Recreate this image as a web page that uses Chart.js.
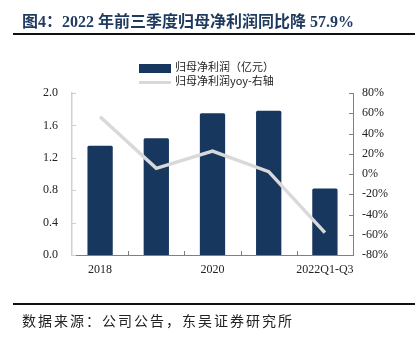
<!DOCTYPE html>
<html>
<head>
<meta charset="utf-8">
<script src="https://cdn.jsdelivr.net/npm/chart.js@4"></script>
<style>
  html, body { margin: 0; padding: 0; background: #fff; }
  #wrap { position: relative; width: 418px; height: 345px; overflow: hidden; }
  #myChart { position: absolute; left: 0; top: 0; }
  .title { position: absolute; left: 22px; top: 8px; font: bold 16px "Liberation Serif", "Noto Sans CJK SC"; color: #1f3a5f; white-space: nowrap; }
  .rule { position: absolute; left: 13px; width: 402px; height: 2px; background: #111; }
  .leg { position: absolute; left: 139px; font: 11px "Noto Sans CJK SC", "Liberation Serif"; color: #222; white-space: nowrap; }
  .leg span { display: inline-block; vertical-align: middle; width: 32px; margin-right: 4px; }
  .note { position: absolute; left: 22px; top: 310px; font: 14px "Noto Sans CJK SC"; line-height: 20px; color: #222; white-space: nowrap; letter-spacing: 2px; }
</style>
</head>
<body>
<div id="wrap">
  <canvas id="myChart" width="418" height="345"></canvas>
  <div class="title">图4：2022 年前三季度归母净利润同比降 57.9%</div>
  <div class="rule" style="top:33px"></div>
  <div class="leg" style="top:58px"><span style="height:9px;background:#17375e"></span>归母净利润（亿元）</div>
  <div class="leg" style="top:72px"><span style="height:3px;background:#d9d9d9"></span>归母净利润yoy-右轴</div>
  <div class="rule" style="top:303px"></div>
  <div class="note">数据来源：公司公告，东吴证券研究所</div>
</div>
<script>
const categories = ['2018', '2019', '2020', '2021', '2022Q1-Q3'];
const profit = [1.35, 1.44, 1.75, 1.78, 0.82];
const profitYoy = [56.6, 5.6, 22.7, 2.3, -57.9];

const tickFont = { family: 'Liberation Serif', size: 12 };

// small tick marks pointing into the plot, like the original
const innerTicks = {
  id: 'innerTicks',
  afterDraw(chart) {
    const ctx = chart.ctx;
    const { left, right, bottom } = chart.chartArea;
    const x = chart.scales.x, y = chart.scales.y, y1 = chart.scales.y1;
    ctx.save();
    ctx.lineWidth = 1;
    ctx.strokeStyle = '#d0d0d0';
    y.ticks.forEach((t, i) => {
      const py = Math.round(y.getPixelForTick(i)) + 0.5;
      ctx.beginPath(); ctx.moveTo(left, py); ctx.lineTo(left + 4, py); ctx.stroke();
    });
    ctx.strokeStyle = '#808080';
    y1.ticks.forEach((t, i) => {
      const py = Math.round(y1.getPixelForTick(i)) + 0.5;
      ctx.beginPath(); ctx.moveTo(right, py); ctx.lineTo(right - 4, py); ctx.stroke();
    });
    for (let i = 1; i < categories.length; i++) {
      const px = Math.round((x.getPixelForValue(i - 1) + x.getPixelForValue(i)) / 2) + 0.5;
      ctx.beginPath(); ctx.moveTo(px, bottom); ctx.lineTo(px, bottom - 4); ctx.stroke();
    }
    ctx.restore();
  }
};

const config = {
  data: {
    labels: categories,
    datasets: [
      {
        type: 'line',
        label: '归母净利润yoy-右轴',
        data: profitYoy,
        yAxisID: 'y1',
        borderColor: '#d9d9d9',
        borderWidth: 3.5,
        pointRadius: 0,
        tension: 0,
        order: 0,
      },
      {
        type: 'bar',
        label: '归母净利润（亿元）',
        data: profit,
        yAxisID: 'y',
        backgroundColor: '#17375e',
        borderRadius: 1.5,
        barPercentage: 0.45,
        categoryPercentage: 1,
        order: 1,
      },
    ],
  },
  options: {
    responsive: false,
    animation: false,
    layout: { padding: { top: 93, left: 0, right: 0, bottom: 0 } },
    plugins: { legend: { display: false }, tooltip: { enabled: false } },
    scales: {
      x: {
        offset: true,
        grid: { display: false, drawTicks: false },
        border: { display: true, color: '#808080', width: 1 },
        ticks: {
          autoSkip: false, maxRotation: 0, padding: 8, color: '#222', font: tickFont,
          callback: (v, i) => (i % 2 === 0 ? categories[i] : ''),
        },
        afterFit: (s) => { s.height = 90; },
      },
      y: {
        position: 'left',
        min: 0, max: 2,
        grid: { display: false, drawTicks: false },
        border: { display: true, color: '#d0d0d0', width: 1.5 },
        ticks: { stepSize: 0.4, padding: 14, color: '#222', font: tickFont, callback: (v) => v.toFixed(1) },
        afterFit: (s) => { s.width = 72; },
      },
      y1: {
        position: 'right',
        min: -80, max: 80,
        grid: { display: false, drawTicks: false },
        border: { display: true, color: '#808080', width: 1 },
        ticks: { stepSize: 20, padding: 9, color: '#222', font: tickFont, callback: (v) => v + '%' },
        afterFit: (s) => { s.width = 65; },
      },
    },
  },
  plugins: [innerTicks],
};

const myChart = new Chart(document.getElementById('myChart'), config);
</script>
</body>
</html>
